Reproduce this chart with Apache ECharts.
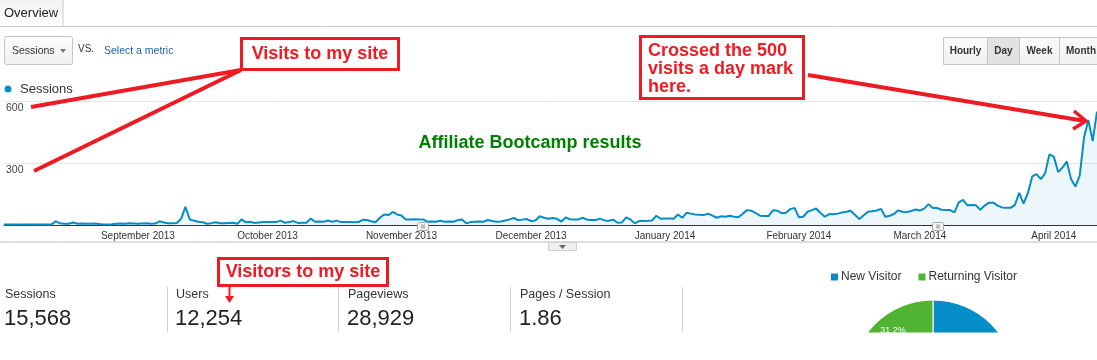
<!DOCTYPE html>
<html>
<head>
<meta charset="utf-8">
<script src="https://cdn.jsdelivr.net/npm/echarts@6/dist/echarts.min.js"></script>
<style>
html,body{margin:0;padding:0;background:#fff;}
#c{width:1097px;height:360px;}
</style>
</head>
<body>
<div id="c"></div>
<script>
// ---- data ----
const startDay = '2013-08-01';
const sessions = [
 2,2,2,2,2,2,2,2,2,2,2,3,
 18,8,6,6,12,6,7,6,6,7,5,
 3,3,4,
 6,7,6,8,7,6,7,8,6,7,
 18,12,9,8,10,30,
 88,27,21,16,13,6,9,13,8,9,10,11,6,
 27,13,16,10,12,14,14,15,14,21,11,14,19,10,11,11,31,16,17,16,22,16,21,14,15,14,13,14,25,24,18,
 13,35,51,48,63,51,46,27,27,28,27,27,
 16,17,16,21,16,17,16,23,27,8,14,16,17,16,24,19,16,17,22,27,34,24,26,29,19,22,42,35,30,34,30,
 16,37,28,27,27,35,25,24,24,31,22,21,26,11,12,37,27,8,19,19,20,22,45,30,31,31,30,51,35,59,55,51,50,48,55,45,35,42,40,45,40,37,55,
 72,69,58,45,44,44,71,69,57,59,77,83,37,40,64,72,80,58,40,53,52,55,61,64,69,48,29,47,64,67,70,78,40,45,53,71,64,63,68,75,70,79,
 101,82,82,74,73,72,61,109,122,95,97,95,74,94,108,108,94,85,84,83,97,156,104,154,235,246,222,251,342,331,256,278,307,222,186,239,423,508,406,548
];
const tickDates  = ['2013-09-01','2013-10-01','2013-11-01','2013-12-01','2014-01-01','2014-02-01','2014-03-01','2014-04-01'];
const tickLabels = ['September 2013','October 2013','November 2013','December 2013','January 2014','February 2014','March 2014','April 2014'];
const yTicks = [0, 300, 600];

const statNames  = ['Sessions','Users','Pageviews','Pages / Session'];
const statValues = ['15,568','12,254','28,929','1.86'];

const visitorTypes = ['New Visitor','Returning Visitor'];
const visitorShare = [68.8, 31.2];

// categories (one per day)
const days = [];
(function(){
  const d0 = new Date(startDay + 'T00:00:00Z');
  for (let i = 0; i < sessions.length; i++) {
    const d = new Date(d0.getTime() + i * 86400000);
    days.push(d.toISOString().slice(0,10));
  }
})();

// ---- style helpers ----
const RED = '#ED1C24';
const FONT = '"Liberation Sans", Arial, sans-serif';
function txt(x, y, s, font, color, align, extra) {
  return Object.assign({
    type: 'text', z: 100,
    style: { x: x, y: y, text: s, font: font, fill: color,
      textAlign: align || 'left', textVerticalAlign: 'middle',
      align: align || 'left', verticalAlign: 'middle' }
  }, extra || {});
}
function rect(x, y, w, h, fill, stroke, lw, r, z) {
  return { type: 'rect', z: z || 100, shape: { x: x, y: y, width: w, height: h, r: r || 0 },
    style: { fill: fill, stroke: stroke || null, lineWidth: lw || 1 } };
}
function line(x1, y1, x2, y2, color, lw, z) {
  return { type: 'line', z: z || 100, shape: { x1: x1, y1: y1, x2: x2, y2: y2 },
    style: { stroke: color, lineWidth: lw || 1 } };
}
function grad(c1, c2) {
  return new echarts.graphic.LinearGradient(0, 0, 0, 1, [{offset:0,color:c1},{offset:1,color:c2}]);
}

const g = [];
// tab
g.push(rect(-1.5, -1.5, 64.5, 28, grad('#f1f1f1','#ffffff'), '#c9c9c9', 1));
g.push(line(63, 26.5, 1097, 26.5, '#c9c9c9', 1));
g.push(txt(4, 13, 'Overview', '13px ' + FONT, '#222'));
// metric dropdown
g.push(rect(4.5, 36.5, 68, 28, grad('#fdfdfd','#f0f0f0'), '#c6c6c6', 1, 2));
g.push(txt(12, 51, 'Sessions', '10.5px ' + FONT, '#333'));
g.push({ type: 'polygon', z: 100, shape: { points: [[60,49],[66,49],[63,53]] }, style: { fill: '#777' } });
g.push(txt(78, 49, 'VS.', '10px ' + FONT, '#333'));
g.push(txt(104, 51, 'Select a metric', '10.5px ' + FONT, '#1e5fb0'));
// legend
g.push({ type: 'circle', z: 100, shape: { cx: 8, cy: 89, r: 3.5 }, style: { fill: '#058DC7' } });
g.push(txt(20, 89, 'Sessions', '13px ' + FONT, '#333'));
// hourly/day/week/month buttons
const btns = [['Hourly',943.5,44],['Day',987.5,32],['Week',1019.5,40],['Month',1059.5,50]];
btns.forEach(function(b){
  const pressed = b[0] === 'Day';
  g.push(rect(b[1], 37.5, b[2], 27, pressed ? '#e2e2e2' : grad('#fbfbfb','#efefef'), '#c6c6c6', 1));
  g.push(txt(b[0]==='Month' ? 1066 : b[1] + b[2]/2, 51, b[0], 'bold 10px ' + FONT, '#333', b[0]==='Month' ? 'left' : 'center'));
});
// annotation markers on the baseline
[423, 938].forEach(function(x){
  g.push(rect(x - 5.5, 222.5, 11, 8, '#f4f4f4', '#a9a9a9', 1, 1));
  g.push(rect(x - 2, 224.5, 4, 4, '#bbb', null, 1));
});
// bottom bar of chart
g.push(line(0, 242, 1097, 242, '#dedede', 2));
g.push(rect(548.5, 242.5, 28, 8, '#efefef', '#cfcfcf', 1));
g.push({ type: 'polygon', z: 100, shape: { points: [[559,245],[566,245],[562.5,249]] }, style: { fill: '#666' } });

// stats
statNames.forEach(function(n, i){
  const x = [5, 176, 348, 520][i];
  g.push(txt(x, 295, n, '12.5px ' + FONT, '#333'));
  g.push(txt(x - 1, 319, statValues[i], '22px ' + FONT, '#222'));
});
[167, 338, 510, 682].forEach(function(x){ g.push(line(x + 0.5, 287, x + 0.5, 332, '#d0d0d0', 1)); });

// Green title
g.push(txt(530, 143, 'Affiliate Bootcamp results', 'bold 18px ' + FONT, '#008000', 'center'));

// red annotation: Visits to my site
g.push(rect(241.5, 38.5, 157, 31, '#fff', RED, 3));
g.push(txt(320, 54, 'Visits to my site', 'bold 18px ' + FONT, RED, 'center'));
g.push(line(241, 70, 31, 107, RED, 4));
g.push(line(241, 70, 34, 171, RED, 4));

// red annotation: Crossed the 500
g.push(rect(640.5, 36.5, 163, 62, '#fff', RED, 3));
g.push(txt(648, 51.5, 'Crossed the 500', 'bold 18px ' + FONT, RED));
g.push(txt(648, 69.5, 'visits a day mark', 'bold 18px ' + FONT, RED));
g.push(txt(648, 87.5, 'here.', 'bold 18px ' + FONT, RED));
g.push(line(808, 75, 1085, 121, RED, 4));
g.push({ type: 'polyline', z: 100, shape: { points: [[1074,111],[1086,121],[1073,129]] }, style: { stroke: RED, lineWidth: 3.5, fill: null } });

// red annotation: Visitors to my site
g.push(rect(218.5, 258.5, 169, 27, '#fff', RED, 3));
g.push(txt(303, 272, 'Visitors to my site', 'bold 18px ' + FONT, RED, 'center'));
g.push(line(229.5, 286, 229.5, 301, RED, 2));
g.push({ type: 'polygon', z: 100, shape: { points: [[225,296],[234,296],[229.5,303]] }, style: { fill: RED } });

// clip the bottom (screenshot ends here)
g.push(rect(0, 332.5, 1097, 30, '#fff', null, 1, 0, 200));

const chart = echarts.init(document.getElementById('c'), null, { renderer: 'canvas' });
chart.setOption({
  animation: false,
  backgroundColor: '#fff',
  grid: { left: 4, right: 0, top: 101, bottom: 135, containLabel: false },
  legend: {
    data: visitorTypes, left: 829, top: 271, icon: 'rect', itemWidth: 9, itemHeight: 9,
    itemGap: 15, padding: 0,
    textStyle: { fontSize: 12, fontFamily: FONT, color: '#333', padding: [0,0,0,-3] }
  },
  xAxis: {
    type: 'category', data: days, boundaryGap: false,
    axisLine: { lineStyle: { color: '#333', width: 1 } },
    axisTick: { show: false },
    splitLine: { show: false },
    axisLabel: {
      interval: function(i, v){ return tickDates.indexOf(v) >= 0; },
      formatter: function(v){ const k = tickDates.indexOf(v); return k >= 0 ? tickLabels[k] : ''; },
      fontSize: 10, fontFamily: FONT, color: '#333', margin: 6, hideOverlap: false
    }
  },
  yAxis: {
    type: 'value', min: yTicks[0], max: yTicks[2], interval: yTicks[1] - yTicks[0],
    axisLine: { show: false }, axisTick: { show: false },
    splitLine: { lineStyle: { color: '#e6e6e6' } },
    axisLabel: {
      inside: true, margin: 2, showMinLabel: false, verticalAlign: 'top',
      padding: [2,0,0,0], fontSize: 10.5, fontFamily: FONT, color: '#444'
    }
  },
  series: [{
    type: 'line', data: sessions, symbol: 'none', smooth: false,
    lineStyle: { color: '#058DC7', width: 2 },
    itemStyle: { color: '#058DC7' },
    areaStyle: { color: 'rgba(5,141,199,0.1)' },
    z: 3
  }, {
    type: 'pie', center: [933, 382], radius: 82, startAngle: 90, clockwise: true,
    data: visitorTypes.map(function(n, i){ return { name: n, value: visitorShare[i] }; }),
    color: ['#058DC7', '#50B432'],
    itemStyle: { borderColor: '#fff', borderWidth: 1 },
    label: { show: true, position: 'inside', formatter: '{d}%', color: '#fff', fontSize: 9, fontFamily: FONT },
    labelLayout: function(p){ return p.dataIndex === 1 ? { x: 893, y: 331, align: 'center', verticalAlign: 'middle' } : {}; },
    emphasis: { disabled: true },
    z: 3
  }],
  graphic: g
});
</script>
</body>
</html>
